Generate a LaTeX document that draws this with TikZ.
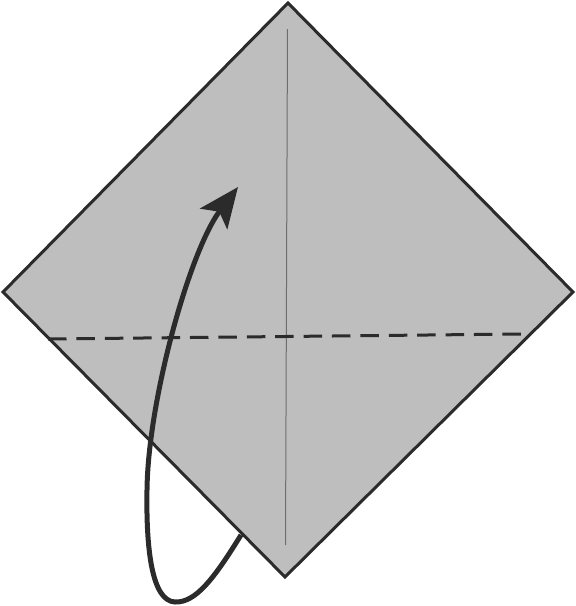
\documentclass[tikz,border=0pt]{standalone}
\usetikzlibrary{arrows.meta}
\definecolor{paper}{HTML}{BEBEBE}
\definecolor{ink}{HTML}{2B2B2B}
\definecolor{crease}{HTML}{6E6E6E}
\begin{document}
\begin{tikzpicture}[x=1pt,y=-1pt,
  sheet/.style={fill=paper,draw=ink,line width=3pt,line join=miter},
  creaseline/.style={draw=crease,line width=1pt},
  valley/.style={draw=ink,line width=3pt,dash pattern=on 18.5pt off 9.9pt},
  foldarrow/.style={draw=ink,line width=5pt,-{Stealth[length=40pt,width=34pt,inset=9pt]}}]
\useasboundingbox (0,0) rectangle (576,606);
\coordinate (T) at (288,3);
\coordinate (L) at (3,292);
\coordinate (R) at (573,292);
\coordinate (B) at (285,577);
\draw[sheet] (T) -- (R) -- (B) -- (L) -- cycle;
\coordinate (c1) at (287.5,29);
\coordinate (c2) at (285.5,545);
\draw[creaseline] (c1) -- (c2);
\coordinate (d1) at (48,339);
\coordinate (d2) at (522,334);
\draw[valley] (d1) -- (d2);
\coordinate (a0) at (241,535);
\coordinate (a1) at (175,602);
\coordinate (a2) at (147,490);
\coordinate (a3) at (238,187);
\draw[foldarrow] (a0) .. controls (215,577) and (196,603) .. (a1)
  .. controls (152,601) and (146,550) .. (a2)
  .. controls (148,400) and (190,250) .. (a3);
\end{tikzpicture}
\end{document}
